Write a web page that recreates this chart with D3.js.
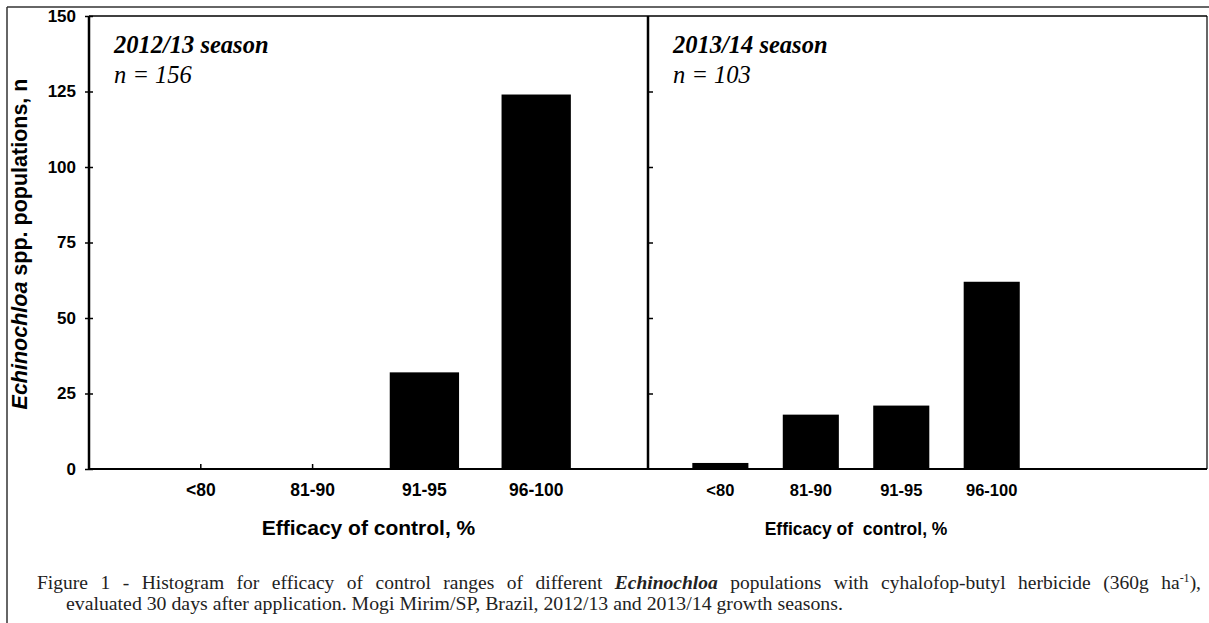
<!DOCTYPE html>
<html>
<head>
<meta charset="utf-8">
<script src="https://cdn.jsdelivr.net/npm/d3@7"></script>
<style>
  body { margin: 0; background: #fff; }
  svg { display: block; }
</style>
</head>
<body>
<div id="chart"></div>
<script>
// data
var categories = ["<80", "81-90", "91-95", "96-100"];
var season1 = [0, 0, 32, 124];
var season2 = [2, 18, 21, 62];
var yTicks = [0, 25, 50, 75, 100, 125, 150];
var panelTitles = ["2012/13 season", "2013/14 season"];
var panelN = ["n = 156", "n = 103"];
var xTitles = ["Efficacy of control, %", "Efficacy of  control, %"];

var W = 1209, H = 623;
var plotTop = 16, plotBottom = 469;
var leftX = 89, midX = 648, rightX = 1207;
var sans = "Arial, 'Liberation Sans', sans-serif";
var serif = "'Liberation Serif', 'Times New Roman', serif";

var svg = d3.select("#chart").append("svg")
    .attr("width", W)
    .attr("height", H);

// outer figure frame
svg.append("line").attr("x1", 7).attr("y1", 7).attr("x2", W).attr("y2", 7)
    .attr("stroke", "#333").attr("stroke-width", 1.5);
svg.append("line").attr("x1", 7).attr("y1", 7).attr("x2", 7).attr("y2", H)
    .attr("stroke", "#333").attr("stroke-width", 1.5);

var y = d3.scaleLinear().domain([0, 150]).range([plotBottom, plotTop]);

// the two panels don't space their bars the same way
var x1 = d3.scaleLinear().domain([-1, 4]).range([leftX, midX]);
var x2 = d3.scaleLinear().domain([-0.8, 5.38]).range([midX, rightX]);
var barW = 0.62;

// right panel's axis text came out a bit smaller in the original
var panels = [
    { x: x1, vals: season1, title: panelTitles[0], n: panelN[0], xt: xTitles[0], tickFs: 17.5, titleFs: 21 },
    { x: x2, vals: season2, title: panelTitles[1], n: panelN[1], xt: xTitles[1], tickFs: 16.5, titleFs: 17.5 }
];

panels.forEach(function (p) {
    var g = svg.append("g");
    var data = categories.map(function (c, i) { return { c: c, i: i, v: p.vals[i] }; });

    // little up-ticks on the baseline at each category
    g.selectAll("line.xt")
        .data(data)
        .enter()
        .append("line")
        .attr("x1", function (d) { return p.x(d.i); })
        .attr("x2", function (d) { return p.x(d.i); })
        .attr("y1", y(0))
        .attr("y2", y(0) - 5)
        .attr("stroke", "#000")
        .attr("stroke-width", 1.5);

    g.selectAll("rect")
        .data(data.filter(function (d) { return d.v > 0; }))
        .enter()
        .append("rect")
        .attr("x", function (d) { return p.x(d.i - barW / 2); })
        .attr("width", function (d) { return p.x(barW) - p.x(0); })
        .attr("y", function (d) { return y(d.v); })
        .attr("height", function (d) { return y(0) - y(d.v); })
        .attr("fill", "#000");

    g.selectAll("text.xl")
        .data(data)
        .enter()
        .append("text")
        .attr("x", function (d) { return p.x(d.i); })
        .attr("y", 496)
        .attr("text-anchor", "middle")
        .attr("font-family", sans)
        .attr("font-weight", "bold")
        .attr("font-size", p.tickFs + "px")
        .text(function (d) { return d.c; });

    // x title centred under the bars, not the panel
    g.append("text")
        .attr("x", p.x(1.5))
        .attr("y", 535)
        .attr("text-anchor", "middle")
        .attr("font-family", sans)
        .attr("font-weight", "bold")
        .attr("font-size", p.titleFs + "px")
        .style("white-space", "pre")
        .text(p.xt);

    var r = p.x.range();
    g.append("text")
        .attr("x", r[0] + 25)
        .attr("y", 53)
        .attr("font-family", serif)
        .attr("font-weight", "bold")
        .attr("font-style", "italic")
        .attr("font-size", "24.5px")
        .text(p.title);

    g.append("text")
        .attr("x", r[0] + 25)
        .attr("y", 83)
        .attr("font-family", serif)
        .attr("font-style", "italic")
        .attr("font-size", "24.5px")
        .text(p.n);
});

// y axis on the left, ticks crossing the axis line
var yAxis = d3.axisLeft(y).tickValues(yTicks).tickSize(5).tickPadding(8);
var ya = svg.append("g")
    .attr("transform", "translate(" + leftX + ",0)")
    .call(yAxis);
ya.select(".domain").remove();
ya.selectAll(".tick line").attr("x2", -4).attr("x1", 4).attr("stroke-width", 1.5);
ya.selectAll(".tick text")
    .attr("font-family", sans)
    .attr("font-weight", "bold")
    .attr("font-size", "17px")
    .attr("fill", "#000");

// inward ticks on the panel divider
var yAxis2 = d3.axisRight(y).tickValues(yTicks.slice(1, -1)).tickSize(5).tickFormat("");
var ya2 = svg.append("g")
    .attr("transform", "translate(" + midX + ",0)")
    .call(yAxis2);
ya2.select(".domain").remove();
ya2.selectAll(".tick line").attr("stroke-width", 1.5);

// panel frame lines
svg.append("line").attr("x1", leftX).attr("x2", rightX).attr("y1", plotTop).attr("y2", plotTop)
    .attr("stroke", "#000").attr("stroke-width", 1.5);
svg.append("line").attr("x1", leftX).attr("x2", rightX).attr("y1", plotBottom).attr("y2", plotBottom)
    .attr("stroke", "#000").attr("stroke-width", 2);
svg.append("line").attr("x1", leftX).attr("x2", leftX).attr("y1", plotTop).attr("y2", plotBottom)
    .attr("stroke", "#000").attr("stroke-width", 2.5);
svg.append("line").attr("x1", midX).attr("x2", midX).attr("y1", plotTop).attr("y2", plotBottom)
    .attr("stroke", "#000").attr("stroke-width", 2.5);
svg.append("line").attr("x1", rightX).attr("x2", rightX).attr("y1", plotTop).attr("y2", plotBottom)
    .attr("stroke", "#000").attr("stroke-width", 1.2);

// y title: genus in italics
var yt = svg.append("text")
    .attr("transform", "translate(27,244) rotate(-90)")
    .attr("text-anchor", "middle")
    .attr("font-family", sans)
    .attr("font-weight", "bold")
    .attr("font-size", "21.5px");
yt.append("tspan").attr("font-style", "italic").text("Echinochloa");
yt.append("tspan").text(" spp. populations, n");

// caption, first line justified to the right margin
var cap1 = svg.append("text")
    .attr("x", 37)
    .attr("y", 589)
    .attr("font-family", serif)
    .attr("font-size", "19.5px")
    .attr("fill", "#222");
cap1.append("tspan").text("Figure 1 - Histogram for efficacy of control ranges of different ");
cap1.append("tspan").attr("font-weight", "bold").attr("font-style", "italic").text("Echinochloa");
cap1.append("tspan").text(" populations with cyhalofop-butyl herbicide (360g ha");
cap1.append("tspan").attr("font-size", "12px").attr("dy", -7).text("-1");
cap1.append("tspan").attr("dy", 7).text("),");

var natural = cap1.node().getComputedTextLength();
var target = 1201 - 37;
var nSpaces = cap1.text().split(" ").length - 1;
cap1.attr("word-spacing", Math.max(0, (target - natural) / nSpaces) + "px");

svg.append("text")
    .attr("x", 66)
    .attr("y", 610)
    .attr("font-family", serif)
    .attr("font-size", "19.8px")
    .attr("fill", "#222")
    .text("evaluated 30 days after application. Mogi Mirim/SP, Brazil, 2012/13 and 2013/14 growth seasons.");
</script>
</body>
</html>
